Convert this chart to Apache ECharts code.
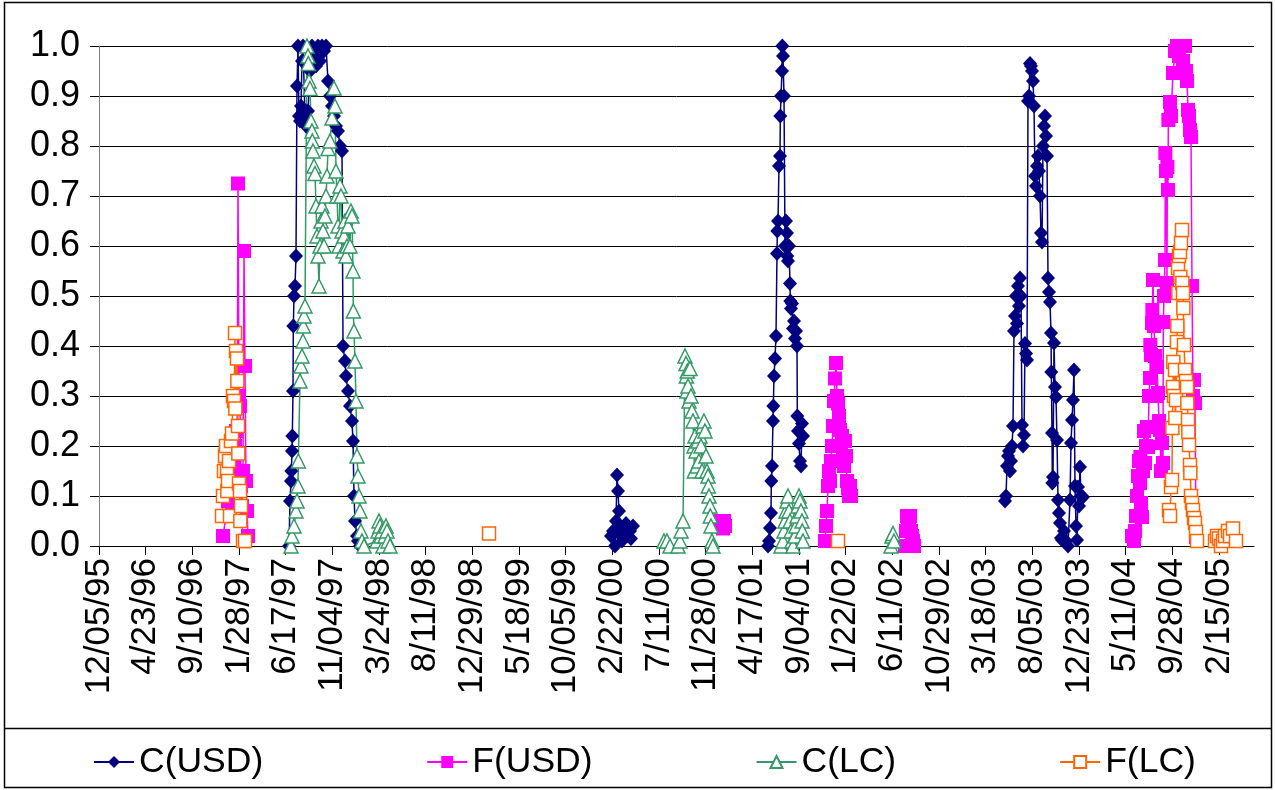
<!DOCTYPE html>
<html>
<head>
<meta charset="utf-8">
<script src="https://cdn.jsdelivr.net/npm/echarts@6/dist/echarts.min.js"></script>
<style>
html,body{margin:0;padding:0;background:#fff;}
#chart{width:1275px;height:790px;}
</style>
</head>
<body>
<div id="chart"></div>
<script>
// Day offsets are counted from 12/05/95 (day 0). null = gap between episodes.
const START_DATE = Date.UTC(1995, 11, 5);
const TICK_DAYS = 140;
const X_MAX_DAYS = 3465;

const xTickLabels = ['12/05/95','4/23/96','9/10/96','1/28/97','6/17/97','11/04/97','3/24/98','8/11/98',
  '12/29/98','5/18/99','10/05/99','2/22/00','7/11/00','11/28/00','4/17/01','9/04/01','1/22/02',
  '6/11/02','10/29/02','3/18/03','8/05/03','12/23/03','5/11/04','9/28/04','2/15/05'];
const yTickValues = [0,0.1,0.2,0.3,0.4,0.5,0.6,0.7,0.8,0.9,1.0];

const seriesNames = ['C(USD)','F(USD)','C(LC)','F(LC)'];

const cUSD = [
  [570,0.0],[573,0.09],[576,0.13],[577,0.15],[579,0.19],[580,0.22],[582,0.31],[583,0.44],[585,0.50],
  [588,0.52],[591,0.58],[594,0.92],[597,1.0],[600,0.86],[603,0.85],[606,0.88],[609,0.97],[612,1.0],
  [618,0.86],[621,0.84],[627,0.87],[633,0.95],[639,1.0],[645,0.98],[651,0.96],[657,1.0],[663,0.97],
  [669,1.0],[675,0.99],[681,1.0],[687,0.93],[693,0.90],[699,0.88],[705,0.86],[711,0.84],[717,0.83],
  [723,0.80],[729,0.79],[732,0.40],[738,0.37],[741,0.34],[747,0.31],[753,0.28],[759,0.25],[762,0.21],
  [765,0.10],[768,0.05],[774,0.02],[777,0.01],[783,0.0],
  null,
  [1536,0.02],[1542,0.03],[1548,0.0],[1551,0.05],[1554,0.142],[1557,0.11],[1560,0.07],[1563,0.04],
  [1566,0.02],[1569,0.01],[1575,0.03],[1581,0.045],[1587,0.02],[1593,0.03],[1596,0.015],[1602,0.04],
  null,
  [2007,0.0],[2010,0.01],[2013,0.036],[2016,0.066],[2017,0.13],[2019,0.16],[2022,0.25],[2023,0.28],
  [2025,0.34],[2028,0.375],[2031,0.42],[2034,0.585],[2035,0.63],[2037,0.65],[2040,0.76],[2043,0.78],
  [2044,0.86],[2046,0.9],[2049,0.95],[2050,1.0],[2052,0.98],[2055,0.9],[2058,0.6],[2061,0.65],
  [2064,0.626],[2065,0.58],[2067,0.57],[2070,0.6],[2073,0.525],[2074,0.49],[2076,0.475],[2079,0.485],
  [2082,0.435],[2085,0.45],[2088,0.415],[2091,0.43],[2094,0.4],[2095,0.26],[2097,0.23],[2100,0.205],
  [2103,0.17],[2106,0.16],[2109,0.245],[2112,0.22],
  null,
  [2718,0.09],[2721,0.1],[2724,0.16],[2727,0.18],[2730,0.19],[2733,0.15],[2736,0.17],[2739,0.2],
  [2742,0.24],[2745,0.43],[2748,0.46],[2751,0.5],[2754,0.445],[2757,0.52],[2760,0.48],[2763,0.536],
  [2766,0.5],[2769,0.242],[2772,0.2],[2775,0.222],[2778,0.405],[2781,0.385],[2784,0.372],[2787,0.89],
  [2790,0.9],[2793,0.965],[2796,0.96],[2799,0.95],[2802,0.93],[2805,0.88],[2808,0.74],[2811,0.72],
  [2814,0.76],[2817,0.78],[2820,0.75],[2823,0.7],[2826,0.626],[2829,0.608],[2832,0.8],[2835,0.84],
  [2838,0.86],[2841,0.82],[2844,0.78],[2847,0.536],[2850,0.508],[2853,0.488],[2856,0.426],[2857,0.348],
  [2859,0.226],[2860,0.126],[2862,0.138],[2865,0.406],[2868,0.318],[2871,0.298],[2874,0.212],[2877,0.092],
  [2880,0.066],[2883,0.046],[2886,0.016],[2889,0.012],[2895,0.03],[2901,0.01],[2907,0.0],[2913,0.092],
  [2916,0.206],[2919,0.252],[2922,0.292],[2925,0.352],[2928,0.12],[2931,0.04],[2934,0.012],[2937,0.118],
  [2940,0.08],[2943,0.158],[2946,0.1],[2952,0.098]
];

const fUSD = [
  [372,0.02],[381,0.06],[387,0.09],[393,0.12],[399,0.08],[402,0.14],[405,0.17],[408,0.2],[411,0.23],
  [414,0.15],[417,0.725],[420,0.3],[423,0.28],[426,0.12],[429,0.08],[432,0.15],[435,0.59],[438,0.36],
  [441,0.13],[444,0.07],[447,0.02],
  null,
  [1866,0.05],[1869,0.04],[1872,0.035],[1875,0.05],[1878,0.04],
  null,
  [2178,0.01],[2181,0.04],[2184,0.07],[2187,0.12],[2190,0.15],[2193,0.13],[2196,0.17],[2199,0.2],
  [2202,0.24],[2205,0.29],[2208,0.335],[2211,0.366],[2214,0.3],[2217,0.285],[2220,0.26],[2223,0.232],
  [2226,0.2],[2229,0.22],[2232,0.18],[2235,0.16],[2238,0.21],[2241,0.18],[2244,0.13],[2247,0.115],
  [2250,0.1],[2253,0.12],[2256,0.1],
  null,
  [2418,0.0],[2421,0.03],[2424,0.06],[2427,0.05],[2430,0.04],[2433,0.06],[2436,0.03],[2439,0.02],
  [2442,0.01],[2445,0.0],
  null,
  [3099,0.02],[3105,0.01],[3108,0.03],[3111,0.06],[3114,0.1],[3117,0.14],[3120,0.17],[3123,0.126],
  [3124,0.178],[3126,0.086],[3129,0.058],[3132,0.15],[3135,0.23],[3138,0.166],[3141,0.2],[3144,0.238],
  [3147,0.198],[3150,0.3],[3153,0.336],[3154,0.402],[3156,0.382],[3159,0.446],[3160,0.472],[3162,0.532],
  [3165,0.44],[3168,0.38],[3171,0.3],[3174,0.358],[3177,0.306],[3180,0.25],[3183,0.232],[3186,0.15],
  [3189,0.206],[3192,0.166],[3193,0.448],[3195,0.5],[3198,0.572],[3199,0.786],[3201,0.75],[3204,0.526],
  [3205,0.758],[3207,0.712],[3208,0.852],[3213,0.888],[3216,0.86],[3222,0.946],[3228,0.99],[3234,1.0],
  [3240,0.98],[3246,1.0],[3252,0.97],[3258,1.0],[3261,0.95],[3264,0.93],[3267,0.872],[3270,0.86],
  [3273,0.832],[3276,0.818],[3279,0.52],[3282,0.3],[3285,0.332],[3288,0.286],[3291,0.018],[3294,0.01]
];

const cLC = [
  [576,0.0],[579,0.02],[585,0.04],[591,0.07],[594,0.09],[597,0.12],[598,0.17],[603,0.33],[606,0.36],
  [609,0.38],[612,0.41],[613,0.44],[615,0.46],[618,0.48],[624,1.0],[627,0.98],[628,0.965],[630,0.93],
  [633,0.915],[636,0.85],[639,0.83],[640,0.81],[642,0.79],[645,0.76],[648,0.745],[651,0.68],[654,0.62],
  [657,0.58],[660,0.52],[663,0.6],[666,0.65],[669,0.68],[672,0.63],[675,0.6],[678,0.66],[681,0.7],
  [684,0.74],[687,0.795],[693,0.81],[699,0.856],[705,0.916],[708,0.88],[711,0.75],[714,0.7],[717,0.64],
  [720,0.6],[723,0.72],[726,0.7],[729,0.63],[732,0.59],[735,0.62],[738,0.65],[741,0.58],[744,0.6],
  [747,0.64],[753,0.6],[756,0.67],[759,0.66],[762,0.55],[763,0.47],[765,0.43],[768,0.37],[771,0.29],
  [774,0.18],[777,0.14],[780,0.1],[783,0.07],[786,0.03],[789,0.01],[795,0.0],[834,0.01],[837,0.03],
  [840,0.05],[843,0.04],[846,0.02],[849,0.03],[852,0.0],[858,0.02],[861,0.04],[864,0.03],[867,0.01],
  [873,0.0],
  null,
  [1695,0.01],[1704,0.01],[1713,0.0],[1737,0.0],[1743,0.01],[1746,0.03],[1752,0.05],[1758,0.38],
  [1761,0.365],[1762,0.34],[1764,0.31],[1765,0.35],[1767,0.32],[1770,0.29],[1773,0.355],[1776,0.3],
  [1779,0.27],[1782,0.25],[1785,0.2],[1786,0.15],[1788,0.22],[1791,0.19],[1794,0.16],[1797,0.21],
  [1800,0.17],[1803,0.22],[1806,0.2],[1809,0.15],[1812,0.24],[1815,0.25],[1818,0.23],[1821,0.18],
  [1824,0.15],[1827,0.14],[1828,0.12],[1830,0.1],[1833,0.08],[1834,0.06],[1836,0.04],[1839,0.01],
  [1842,0.0],
  null,
  [2046,0.0],[2052,0.01],[2055,0.03],[2058,0.05],[2061,0.07],[2064,0.09],[2067,0.1],[2070,0.07],
  [2073,0.05],[2076,0.03],[2079,0.01],[2082,0.0],[2088,0.02],[2091,0.04],[2094,0.06],[2097,0.08],
  [2100,0.1],[2103,0.09],[2106,0.07],[2109,0.05],[2110,0.03],[2112,0.01],
  null,
  [2376,0.0],[2379,0.02],[2382,0.025],[2385,0.01]
];

const fLC = [
  [369,0.06],[372,0.1],[375,0.15],[378,0.18],[381,0.2],[384,0.15],[385,0.11],[387,0.13],[390,0.17],
  [393,0.06],[396,0.21],[399,0.225],[402,0.3],[405,0.29],[408,0.426],[409,0.275],[411,0.39],[414,0.375],
  [415,0.33],[417,0.24],[418,0.185],[420,0.125],[423,0.11],[424,0.05],[426,0.08],[432,0.01],[438,0.01],
  null,
  [1170,0.025],
  null,
  [2217,0.01],
  null,
  [3210,0.072],[3213,0.06],[3216,0.118],[3219,0.132],[3220,0.236],[3222,0.318],[3223,0.368],[3225,0.3],
  [3228,0.352],[3229,0.256],[3231,0.292],[3234,0.408],[3235,0.44],[3237,0.556],[3238,0.506],[3240,0.58],
  [3243,0.588],[3244,0.538],[3246,0.606],[3249,0.632],[3250,0.526],[3252,0.506],[3253,0.476],[3255,0.402],
  [3258,0.352],[3261,0.33],[3264,0.318],[3265,0.286],[3267,0.252],[3268,0.228],[3270,0.202],[3273,0.162],
  [3274,0.146],[3276,0.1],[3279,0.086],[3282,0.072],[3285,0.056],[3288,0.046],[3291,0.028],[3294,0.01],
  null,
  [3348,0.01],[3354,0.02],[3360,0.015],[3366,0.0],[3372,0.01],[3378,0.02],[3387,0.03],[3393,0.02],
  [3402,0.035],[3411,0.01]
];

const FONT = "'Liberation Sans', Arial, sans-serif";

function prep(arr) {
  return arr.map(p => p === null ? ['-', '-'] : p);
}

const chart = echarts.init(document.getElementById('chart'), null, {renderer: 'canvas'});

const option = {
  backgroundColor: '#fff',
  animation: false,
  textStyle: {fontFamily: FONT, color: '#000'},
  grid: {left: 99, right: 21, top: 46, bottom: 244, containLabel: false},
  xAxis: {
    type: 'value', min: 0, max: X_MAX_DAYS, interval: TICK_DAYS,
    axisLine: {show: true, onZero: false, lineStyle: {color: '#000', width: 1}},
    axisTick: {show: true, length: 9, lineStyle: {color: '#000', width: 1}},
    axisLabel: {
      rotate: 90, fontSize: 35, fontFamily: FONT, color: '#000', margin: 12,
      showMaxLabel: false,
      formatter: function (v) {
        const i = Math.round(v / TICK_DAYS);
        if (Math.abs(v - i * TICK_DAYS) > 0.01) return '';
        return xTickLabels[i] || '';
      }
    },
    splitLine: {show: false}
  },
  yAxis: {
    type: 'value', min: 0, max: 1, interval: 0.1,
    axisLine: {show: true, lineStyle: {color: '#808080', width: 1}},
    axisTick: {show: true, length: 9, lineStyle: {color: '#000', width: 1}},
    axisLabel: {fontSize: 36, fontFamily: FONT, color: '#000', margin: 19,
      formatter: v => v.toFixed(1)},
    splitLine: {show: true, lineStyle: {color: '#000', width: 1}}
  },
  legend: {
    left: 88, top: 739, itemWidth: 40, itemHeight: 15, itemGap: 163,
    textStyle: {fontSize: 35.5, fontFamily: FONT, color: '#000'},
    data: seriesNames
  },
  graphic: [
    {type: 'rect', shape: {x: 4.5, y: 2.5, width: 1267, height: 785},
      style: {fill: null, stroke: '#000', lineWidth: 1.5}, silent: true, z: 100},
    {type: 'line', shape: {x1: 4.5, y1: 728.5, x2: 1271.5, y2: 728.5},
      style: {stroke: '#000', lineWidth: 1.5}, silent: true, z: 100}
  ],
  series: [
    {name: seriesNames[0], type: 'line', data: prep(cUSD), connectNulls: false, clip: false,
      symbol: 'diamond', symbolSize: [14, 15],
      itemStyle: {color: '#000080'}, lineStyle: {color: '#000080', width: 1.5}},
    {name: seriesNames[1], type: 'line', data: prep(fUSD), connectNulls: false, clip: false,
      symbol: 'rect', symbolSize: 14,
      itemStyle: {color: '#FF00FF'}, lineStyle: {color: '#FF00FF', width: 1.5}},
    {name: seriesNames[2], type: 'line', data: prep(cLC), connectNulls: false, clip: false,
      symbol: 'triangle', symbolSize: 14,
      itemStyle: {color: '#fff', borderColor: '#339966', borderWidth: 1.5},
      lineStyle: {color: '#339966', width: 1.5}},
    {name: seriesNames[3], type: 'line', data: prep(fLC), connectNulls: false, clip: false,
      symbol: 'rect', symbolSize: 13,
      itemStyle: {color: '#fff', borderColor: '#FF6600', borderWidth: 1.5},
      lineStyle: {color: '#FF6600', width: 1.5}}
  ]
};
chart.setOption(option);
</script>
</body>
</html>
